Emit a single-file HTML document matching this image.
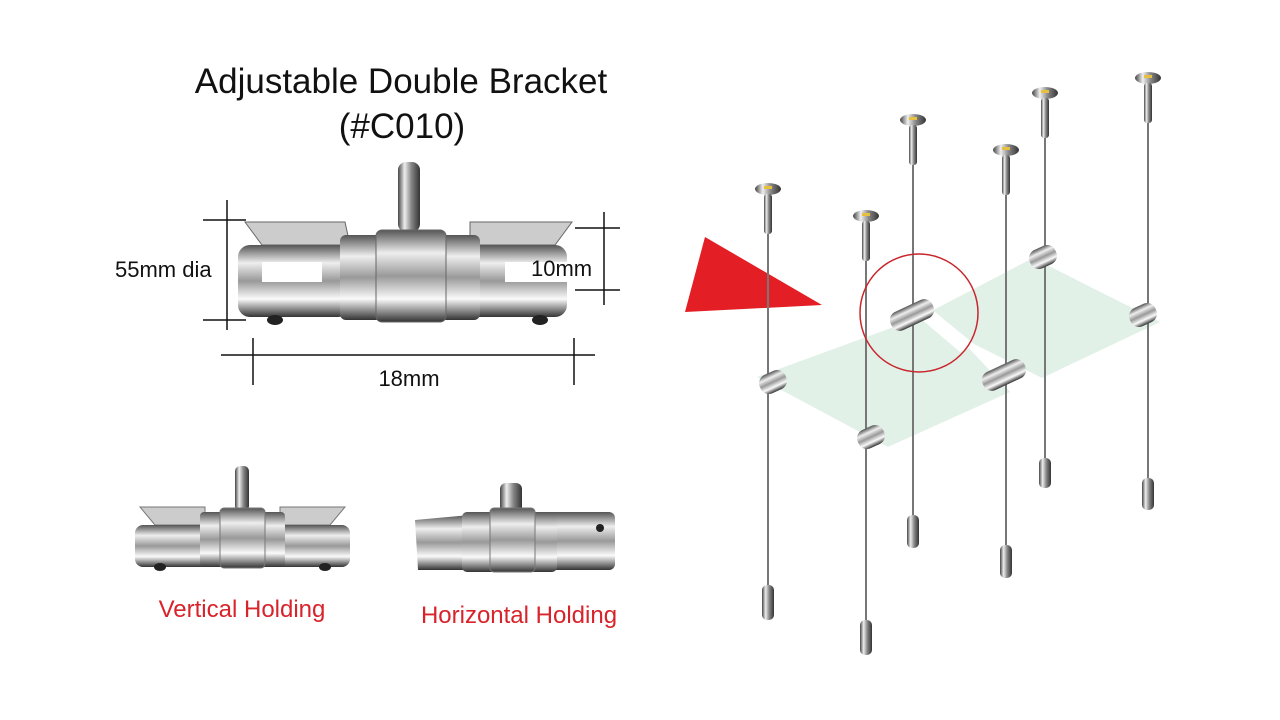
<!DOCTYPE html>
<html><head><meta charset="utf-8"><style>
html,body{margin:0;padding:0;background:#fff;}
svg{display:block;font-family:"Liberation Sans",sans-serif;}
</style></head><body>
<svg width="1280" height="720" viewBox="0 0 1280 720" xmlns="http://www.w3.org/2000/svg">
<defs>
<linearGradient id="chr" x1="0" y1="0" x2="0" y2="1">
<stop offset="0" stop-color="#555"/><stop offset="0.25" stop-color="#eee"/><stop offset="0.5" stop-color="#999"/><stop offset="0.75" stop-color="#fafafa"/><stop offset="1" stop-color="#333"/>
</linearGradient>
<linearGradient id="chv" x1="0" y1="0" x2="1" y2="0">
<stop offset="0" stop-color="#444"/><stop offset="0.3" stop-color="#eee"/><stop offset="0.6" stop-color="#888"/><stop offset="1" stop-color="#333"/>
</linearGradient>
</defs>
<rect width="1280" height="720" fill="#fff"/>
<text x="401" y="93" font-size="35" text-anchor="middle" fill="#111">Adjustable Double Bracket</text>
<text x="402" y="138" font-size="35" text-anchor="middle" fill="#111">(#C010)</text>

<!-- main bracket -->
<g>
<rect x="398" y="162" width="22" height="70" rx="8" fill="url(#chv)"/>
<polygon points="245,222 345,222 350,245 262,245" fill="#ccc" stroke="#666"/>
<polygon points="470,222 572,222 555,245 470,245" fill="#ccc" stroke="#666"/>
<rect x="238" y="245" width="112" height="72" rx="12" fill="url(#chr)"/>
<rect x="455" y="245" width="112" height="72" rx="12" fill="url(#chr)"/>
<rect x="262" y="262" width="60" height="20" fill="#fff"/>
<rect x="505" y="262" width="62" height="20" fill="#fff"/>
<rect x="340" y="235" width="140" height="85" rx="6" fill="url(#chr)"/>
<rect x="376" y="230" width="70" height="92" rx="6" fill="url(#chr)" stroke="#666"/>
<ellipse cx="275" cy="320" rx="8" ry="5" fill="#222"/>
<ellipse cx="540" cy="320" rx="8" ry="5" fill="#222"/>
</g>
<g stroke="#111" stroke-width="1.5" fill="none">
<line x1="203" y1="220" x2="246" y2="220"/><line x1="203" y1="320" x2="246" y2="320"/><line x1="227" y1="200" x2="227" y2="330"/>
<line x1="575" y1="228" x2="620" y2="228"/><line x1="575" y1="290" x2="620" y2="290"/><line x1="604" y1="212" x2="604" y2="305"/>
<line x1="221" y1="355" x2="595" y2="355"/><line x1="253" y1="338" x2="253" y2="385"/><line x1="574" y1="338" x2="574" y2="385"/>
</g>
<text x="115" y="277" font-size="22" fill="#111">55mm dia</text>
<text x="531" y="276" font-size="22" fill="#111">10mm</text>
<text x="409" y="386" font-size="22" text-anchor="middle" fill="#111">18mm</text>

<!-- small brackets -->
<g>
<rect x="235" y="466" width="14" height="45" rx="5" fill="url(#chv)"/>
<polygon points="140,507 205,507 205,525 155,525" fill="#ccc" stroke="#777"/>
<polygon points="280,507 345,507 330,525 280,525" fill="#ccc" stroke="#777"/>
<rect x="135" y="525" width="75" height="42" rx="8" fill="url(#chr)"/>
<rect x="275" y="525" width="75" height="42" rx="8" fill="url(#chr)"/>
<rect x="200" y="512" width="85" height="55" rx="4" fill="url(#chr)"/>
<rect x="220" y="508" width="45" height="60" rx="4" fill="url(#chr)" stroke="#777"/>
<ellipse cx="160" cy="567" rx="6" ry="4" fill="#222"/><ellipse cx="325" cy="567" rx="6" ry="4" fill="#222"/>
</g>
<g>
<rect x="500" y="483" width="22" height="40" rx="6" fill="url(#chv)"/>
<polygon points="415,520 470,515 475,570 418,570" fill="url(#chr)"/>
<rect x="545" y="512" width="70" height="58" rx="6" fill="url(#chr)"/>
<rect x="462" y="512" width="95" height="60" rx="5" fill="url(#chr)"/>
<rect x="490" y="508" width="45" height="64" rx="4" fill="url(#chr)" stroke="#777"/>
<ellipse cx="600" cy="528" rx="4" ry="4" fill="#222"/>
</g>
<text x="242" y="617" font-size="24" text-anchor="middle" fill="#d8232a">Vertical Holding</text>
<text x="519" y="623" font-size="24" text-anchor="middle" fill="#d8232a">Horizontal Holding</text>

<!-- red arrow -->
<polygon points="685,312 705,237 822,305" fill="#e31e24"/>

<!-- glass panes -->
<polygon points="757,377 935,312 1010,392 888,447" fill="#dff0e6" opacity="0.9"/>
<polygon points="920,317 1033,258 1160,322 1042,378" fill="#dff0e6" opacity="0.9"/>
<polygon points="920,318 935,312 975,345 960,352" fill="#fff"/>

<!-- cables -->
<g stroke="#777" stroke-width="2">
<line x1="768" y1="195" x2="768" y2="590"/>
<line x1="866" y1="222" x2="866" y2="625"/>
<line x1="913" y1="125" x2="913" y2="520"/>
<line x1="1006" y1="155" x2="1006" y2="550"/>
<line x1="1045" y1="98" x2="1045" y2="465"/>
<line x1="1148" y1="83" x2="1148" y2="485"/>
</g>
<g fill="url(#chv)">
<g transform="translate(768,0)"><ellipse cx="0" cy="189" rx="13" ry="6"/><rect x="-4" y="194" width="8" height="40" rx="3"/><rect x="-6" y="585" width="12" height="35" rx="5"/></g>
<g transform="translate(866,0)"><ellipse cx="0" cy="216" rx="13" ry="6"/><rect x="-4" y="221" width="8" height="40" rx="3"/><rect x="-6" y="620" width="12" height="35" rx="5"/></g>
<g transform="translate(913,0)"><ellipse cx="0" cy="120" rx="13" ry="6"/><rect x="-4" y="125" width="8" height="40" rx="3"/><rect x="-6" y="515" width="12" height="33" rx="5"/></g>
<g transform="translate(1006,0)"><ellipse cx="0" cy="150" rx="13" ry="6"/><rect x="-4" y="155" width="8" height="40" rx="3"/><rect x="-6" y="545" width="12" height="33" rx="5"/></g>
<g transform="translate(1045,0)"><ellipse cx="0" cy="93" rx="13" ry="6"/><rect x="-4" y="98" width="8" height="40" rx="3"/><rect x="-6" y="458" width="12" height="30" rx="5"/></g>
<g transform="translate(1148,0)"><ellipse cx="0" cy="78" rx="13" ry="6"/><rect x="-4" y="83" width="8" height="40" rx="3"/><rect x="-6" y="478" width="12" height="32" rx="5"/></g>
</g>
<g fill="#e8c040"><rect x="764" y="186" width="8" height="3"/><rect x="862" y="213" width="8" height="3"/><rect x="909" y="117" width="8" height="3"/><rect x="1002" y="147" width="8" height="3"/><rect x="1041" y="90" width="8" height="3"/><rect x="1144" y="75" width="8" height="3"/></g>

<!-- clamps on cables -->
<g fill="url(#chr)">
<rect x="759" y="372" width="28" height="20" rx="9" transform="rotate(-25 773 382)"/>
<rect x="857" y="427" width="28" height="20" rx="9" transform="rotate(-25 871 437)"/>
<rect x="889" y="305" width="46" height="20" rx="9" transform="rotate(-25 912 315)"/>
<rect x="981" y="365" width="46" height="20" rx="9" transform="rotate(-25 1004 375)"/>
<rect x="1029" y="247" width="28" height="20" rx="9" transform="rotate(-25 1043 257)"/>
<rect x="1129" y="305" width="28" height="20" rx="9" transform="rotate(-25 1143 315)"/>
</g>
<circle cx="919" cy="313" r="59" fill="none" stroke="#c8262c" stroke-width="1.5"/>
</svg>
</body></html>
